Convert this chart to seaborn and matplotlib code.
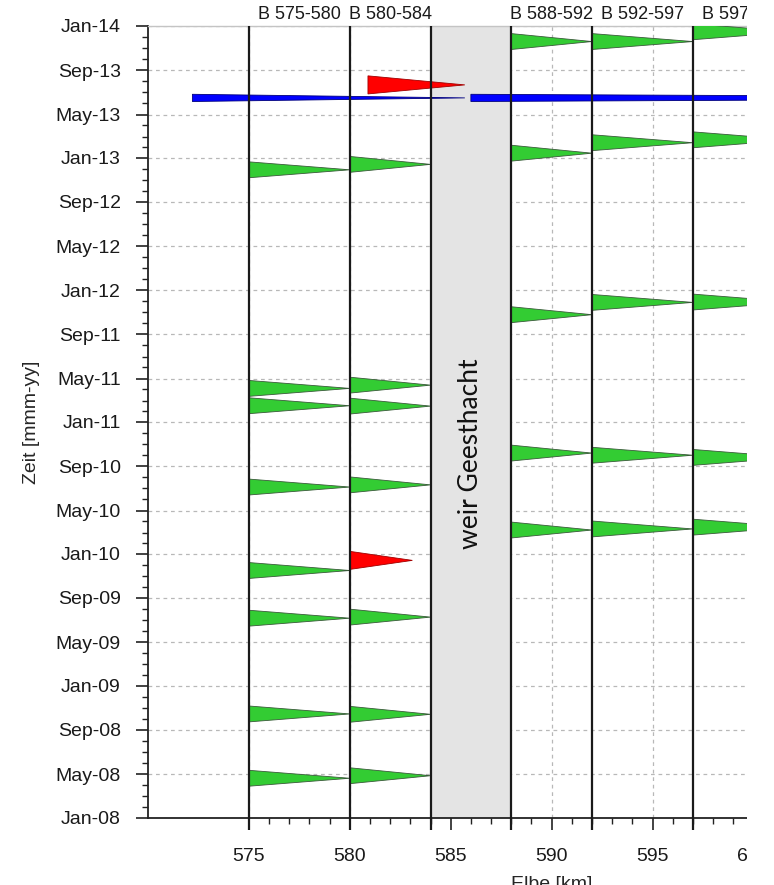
import matplotlib
matplotlib.use("Agg")
import matplotlib.pyplot as plt
import matplotlib.dates as mdates
from matplotlib.patches import Rectangle
from matplotlib.ticker import FixedLocator, FormatStrFormatter
import pandas as pd
import seaborn as sns

# Elbe river sections (km) and their header labels
section_edges = [575, 580, 584, 588, 592, 597]
header_centers = [577.5, 582.0, 590.0, 594.5, 599.5]
header_labels = ["B 575-580", "B 580-584", "B 588-592", "B 592-597", "B 597-602"]
weir_from, weir_to = 584, 588
weir_label = "weir Geesthacht"

# survey campaigns (green): section start, section end, date
green_from = [575] * 8 + [580] * 7 + [588] * 5 + [592] * 5 + [597] * 5
green_to = [580] * 8 + [584] * 7 + [592] * 5 + [597] * 5 + [602] * 5
green_date = [
    "2008-04-20", "2008-10-15", "2009-07-07", "2009-11-16",
    "2010-07-05", "2011-02-15", "2011-04-04", "2012-11-29",
    "2008-04-27", "2008-10-14", "2009-07-10", "2010-07-11",
    "2011-02-14", "2011-04-13", "2012-12-14",
    "2010-03-08", "2010-10-07", "2011-10-25", "2013-01-14", "2013-11-19",
    "2010-03-11", "2010-10-01", "2011-11-28", "2013-02-12", "2013-11-19",
    "2010-03-16", "2010-09-25", "2011-11-29", "2013-02-20", "2013-12-16",
]

# partial campaigns (red)
red_from = [580.0, 580.9]
red_to = [583.1, 585.7]
red_date = ["2009-12-14", "2013-07-22"]

# long-distance campaign (blue), interrupted at the weir
blue_from = [572.2, 586.0]
blue_to = [585.7, 625.0]
blue_date = ["2013-06-16", "2013-06-16"]

green = pd.DataFrame({"von": green_from, "bis": green_to, "datum": pd.to_datetime(green_date)})
red = pd.DataFrame({"von": red_from, "bis": red_to, "datum": pd.to_datetime(red_date)})
blue = pd.DataFrame({"von": blue_from, "bis": blue_to, "datum": pd.to_datetime(blue_date)})

sns.set_theme(style="ticks")
plt.rcParams["font.family"] = ["Liberation Sans", "DejaVu Sans"]
plt.rcParams["text.color"] = "#1a1a1a"

W, H = 774, 885
fig = plt.figure(figsize=(W / 100, H / 100), dpi=100)
px_per_km = 20.18
ax = fig.add_axes([148 / W, 67 / H, 40 * px_per_km / W, 792 / H])

y0 = mdates.date2num(pd.Timestamp("2008-01-01"))
y1 = mdates.date2num(pd.Timestamp("2014-01-01"))
ax.set_xlim(570, 610)
ax.set_ylim(y0, y1)


def draw_wedges(df, color, half_days, edge):
    for _, r in df.iterrows():
        d = mdates.date2num(r["datum"])
        ax.fill([r["von"], r["von"], r["bis"]], [d - half_days, d + half_days, d],
                facecolor=color, edgecolor=edge, linewidth=0.6, zorder=4)


draw_wedges(green, "#33cc33", 22, "#3a5a3a")
draw_wedges(red, "#ff0000", 25, "#a00000")
draw_wedges(blue, "#0000ff", 10, "#00007a")

# weir band
ax.axvspan(weir_from, weir_to, color="#e4e4e4", zorder=2, linewidth=0)
ax.text((weir_from + weir_to) / 2, mdates.date2num(pd.Timestamp("2010-10-05")), weir_label,
        rotation=90, ha="center", va="center", fontsize=19, family=["Lato", "DejaVu Sans"],
        color="#111111", zorder=6)

# section boundaries, reaching a little below the axis like ticks
ax.vlines(section_edges, y0 - 33, y1, colors="#1a1a1a", linewidth=1.6, zorder=5, clip_on=False)

# section headers
for xc, lab in zip(header_centers, header_labels):
    ax.annotate(lab, xy=(xc, 1.0), xycoords=ax.get_xaxis_transform(),
                xytext=(0, 5), textcoords="offset points",
                ha="center", va="baseline", fontsize=13, annotation_clip=False)

# axes, ticks and grid
ax.yaxis.set_major_locator(mdates.MonthLocator(bymonth=[1, 5, 9]))
ax.yaxis.set_minor_locator(mdates.MonthLocator())
ax.yaxis.set_major_formatter(mdates.DateFormatter("%b-%y"))
ax.xaxis.set_major_locator(FixedLocator(list(range(575, 611, 5))))
ax.xaxis.set_minor_locator(FixedLocator(list(range(575, 611))))
ax.xaxis.set_major_formatter(FormatStrFormatter("%d"))

ax.grid(True, which="major", color="#b8b8b8", linestyle=(0, (3, 3)), linewidth=0.9, zorder=1)
ax.set_axisbelow(True)

ax.tick_params(axis="both", which="major", direction="out", length=8.5, width=1.2,
               color="#222222", labelsize=14, labelcolor="#1a1a1a")
ax.tick_params(axis="both", which="minor", direction="out", length=4, width=1.0, color="#222222")
ax.tick_params(axis="y", which="major", pad=11)
ax.tick_params(axis="x", which="major", pad=13)

for side in ["left", "bottom"]:
    ax.spines[side].set_color("#222222")
    ax.spines[side].set_linewidth(1.3)
ax.spines["top"].set_color("#c4c4c4")
ax.spines["top"].set_linewidth(1.0)
ax.spines["right"].set_visible(False)

ax.set_ylabel("Zeit [mmm-yy]", fontsize=14, labelpad=11)
ax.set_xlabel("Elbe [km]", fontsize=14, labelpad=8)

# the sheet ends just right of km 599
fig.add_artist(Rectangle((747 / W, 0), 1, 1, transform=fig.transFigure,
                         facecolor="white", edgecolor="none", zorder=100))

fig.savefig("out.png", dpi=100)
